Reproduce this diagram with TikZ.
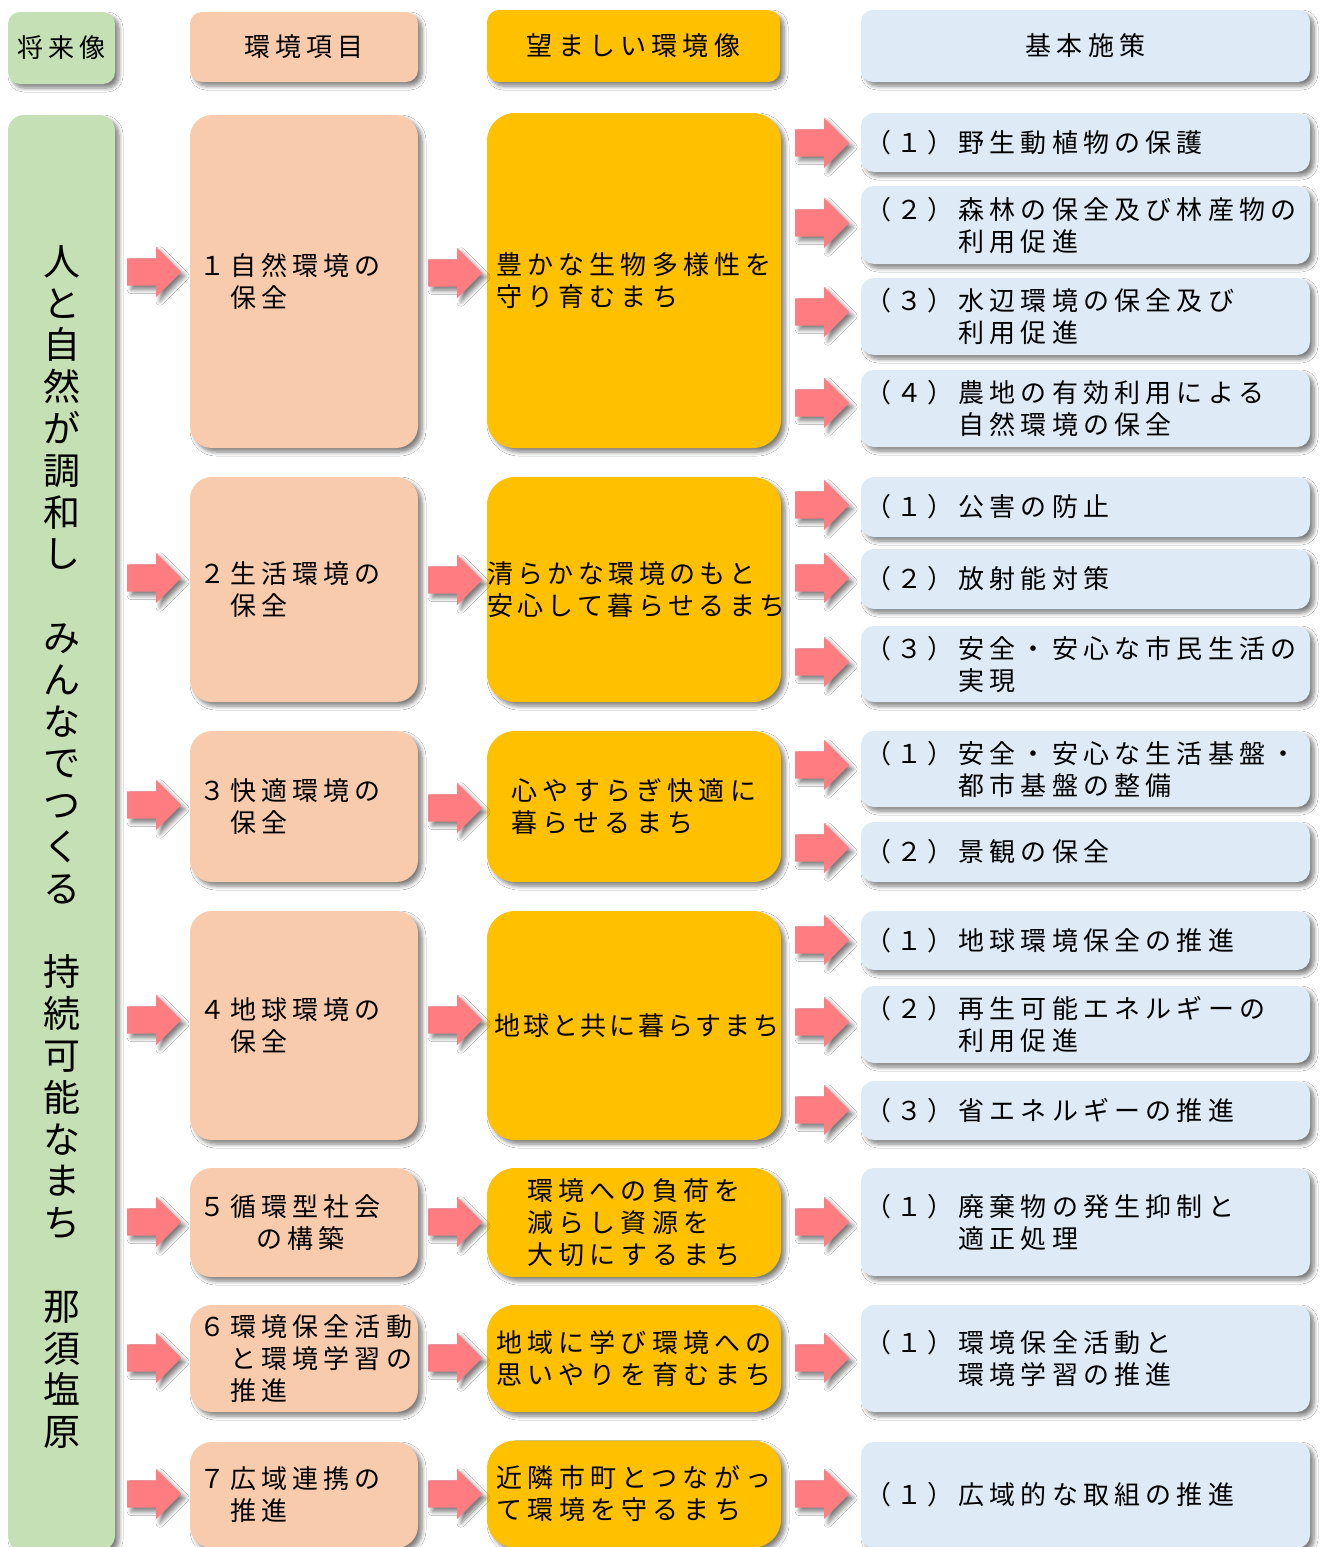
\documentclass[tikz,border=0pt]{standalone}
\usepackage{fontspec}
\setmainfont{Noto Sans CJK JP}[LetterSpace=20]
\newfontfamily\vfont{Noto Sans CJK JP}
\usetikzlibrary{shapes.arrows,shadows.blur}
\definecolor{cgreen}{HTML}{C5E0B4}
\definecolor{cpeach}{HTML}{F8CBAD}
\definecolor{cgold}{HTML}{FFC000}
\definecolor{cblue}{HTML}{DEEBF7}
\definecolor{cpink}{HTML}{FF7C80}
\newcommand{\ind}[1]{\hphantom{#1}\kern5pt\relax}
\begin{document}
\begin{tikzpicture}[x=1pt,y=-1pt,
  shade/.style={blur shadow={shadow xshift=4pt,shadow yshift=-4pt,shadow blur radius=4pt,shadow blur steps=6,shadow opacity=50}},
  txt/.style={font=\fontsize{26pt}{32pt}\selectfont},
  box/.style={rectangle,rounded corners=#1,draw=none,inner sep=0pt,shade,txt},
  hdr/.style={box=12pt,minimum height=72pt,align=center},
  peach/.style={box=22pt,fill=cpeach,text width=210pt,inner xsep=9pt,align=left},
  gold/.style={box=28pt,fill=cgold,minimum width=294pt,align=left},
  blue/.style={box=13pt,fill=cblue,text width=441pt,inner xsep=4pt,align=left},
  parrow/.style={single arrow,fill=cpink,draw=none,minimum height=54pt,anchor=tail,
    single arrow head extend=11.5pt,single arrow tip angle=90,inner xsep=0pt,inner ysep=13.5pt,shade}]
\useasboundingbox[fill=white] (0,0) rectangle (1320,1547);
% headers
\node[hdr,fill=cgreen,minimum width=107pt] (h0) at (61.5,48) {将来像};
\node[hdr,fill=cpeach,minimum width=228pt,minimum height=70pt] (h1) at (304,47) {環境項目};
\node[hdr,fill=cgold,minimum width=293pt] (h2) at (633.5,46) {望ましい環境像};
\node[hdr,fill=cblue,minimum width=449pt] (h3) at (1085.5,46) {基本施策};
% vision column
\node[box=16pt,fill=cgreen,minimum width=107pt,minimum height=1436pt] (vis) at (61.5,833) {};
\node[font=\vfont\fontsize{37pt}{41.8pt}\selectfont,align=center,inner sep=0pt] (vt) at (61.5,847)
 {人\\と\\自\\然\\が\\調\\和\\し\\\mbox{}\\み\\ん\\な\\で\\つ\\く\\る\\\mbox{}\\持\\続\\可\\能\\な\\ま\\ち\\\mbox{}\\那\\須\\塩\\原};
% environmental items
\node[peach,minimum height=333pt] (p1) at (304,281.5) {１自然環境の\\\ind{１}保全};
\node[peach,minimum height=225pt] (p2) at (304,589.5) {２生活環境の\\\ind{２}保全};
\node[peach,minimum height=151pt] (p3) at (304,806.5) {３快適環境の\\\ind{３}保全};
\node[peach,minimum height=229pt] (p4) at (304,1025.5) {４地球環境の\\\ind{４}保全};
\node[peach,minimum height=109pt] (p5) at (304,1222.5) {５循環型社会\\\hphantom{５循}の構築};
\node[peach,minimum height=107pt] (p6) at (304,1358.5) {６環境保全活動\\\ind{６}と環境学習の\\\ind{６}推進};
\node[peach,minimum height=106pt] (p7) at (304,1495) {７広域連携の\\\ind{７}推進};
% desired images
\node[gold,minimum height=335pt] (g1) at (634,280.5) {豊かな生物多様性を\\守り育むまち};
\node[gold,minimum height=225pt,text width=294pt,font={\fontsize{26pt}{32pt}\selectfont\addfontfeature{LetterSpace=17}}] (g2) at (634,589.5) {清らかな環境のもと\\安心して暮らせるまち};
\node[gold,minimum height=151pt] (g3) at (634,806.5) {心やすらぎ快適に\\暮らせるまち};
\node[gold,minimum height=229pt,font={\fontsize{26pt}{32pt}\selectfont\addfontfeature{LetterSpace=11}}] (g4) at (634,1025.5) {\hspace{6pt}地球と共に暮らすまち};
\node[gold,minimum height=109pt] (g5) at (634,1222.5) {環境への負荷を\\減らし資源を\\大切にするまち};
\node[gold,minimum height=107pt] (g6) at (634,1358.5) {地域に学び環境への\\思いやりを育むまち};
\node[gold,minimum height=107pt] (g7) at (634,1494) {近隣市町とつながっ\\て環境を守るまち};
% basic measures
\node[blue,minimum height=59pt] (b11) at (1085.5,142.5) {（１）野生動植物の保護};
\node[blue,minimum height=78pt] (b12) at (1085.5,225) {（２）森林の保全及び林産物の\\\ind{（２）}利用促進};
\node[blue,minimum height=77pt] (b13) at (1085.5,316.5) {（３）水辺環境の保全及び\\\ind{（３）}利用促進};
\node[blue,minimum height=77pt] (b14) at (1085.5,408.5) {（４）農地の有効利用による\\\ind{（４）}自然環境の保全};
\node[blue,minimum height=60pt] (b21) at (1085.5,507) {（１）公害の防止};
\node[blue,minimum height=60pt] (b22) at (1085.5,579) {（２）放射能対策};
\node[blue,minimum height=76pt] (b23) at (1085.5,664) {（３）安全・安心な市民生活の\\\ind{（３）}実現};
\node[blue,minimum height=76pt] (b31) at (1085.5,769) {（１）安全・安心な生活基盤・\\\ind{（１）}都市基盤の整備};
\node[blue,minimum height=60pt] (b32) at (1085.5,852) {（２）景観の保全};
\node[blue,minimum height=59pt] (b41) at (1085.5,940.5) {（１）地球環境保全の推進};
\node[blue,minimum height=77pt] (b42) at (1085.5,1024.5) {（２）再生可能エネルギーの\\\ind{（２）}利用促進};
\node[blue,minimum height=59pt] (b43) at (1085.5,1110.5) {（３）省エネルギーの推進};
\node[blue,minimum height=108pt] (b51) at (1085.5,1222) {（１）廃棄物の発生抑制と\\\ind{（１）}適正処理};
\node[blue,minimum height=107pt] (b61) at (1085.5,1358.5) {（１）環境保全活動と\\\ind{（１）}環境学習の推進};
\node[blue,minimum height=106pt] (b71) at (1085.5,1495) {（１）広域的な取組の推進};
% arrows: vision -> items
\node[parrow] (la1) at (127,272) {};
\node[parrow] (la2) at (127,578) {};
\node[parrow] (la3) at (127,805) {};
\node[parrow] (la4) at (127,1020) {};
\node[parrow] (la5) at (127,1222) {};
\node[parrow] (la6) at (127,1358) {};
\node[parrow] (la7) at (127,1494) {};
% arrows: items -> images
\node[parrow] (ma1) at (428,273) {};
\node[parrow] (ma2) at (428,580) {};
\node[parrow] (ma3) at (428,808) {};
\node[parrow] (ma4) at (428,1020) {};
\node[parrow] (ma5) at (428,1222) {};
\node[parrow] (ma6) at (428,1358) {};
\node[parrow] (ma7) at (428,1494) {};
% arrows: images -> measures
\node[parrow] (ra11) at (795,143) {};
\node[parrow] (ra12) at (795,223) {};
\node[parrow] (ra13) at (795,312) {};
\node[parrow] (ra14) at (795,403) {};
\node[parrow] (ra21) at (795,505) {};
\node[parrow] (ra22) at (795,578) {};
\node[parrow] (ra23) at (795,662) {};
\node[parrow] (ra31) at (795,765) {};
\node[parrow] (ra32) at (795,848) {};
\node[parrow] (ra41) at (795,940) {};
\node[parrow] (ra42) at (795,1022) {};
\node[parrow] (ra43) at (795,1110) {};
\node[parrow] (ra51) at (795,1222) {};
\node[parrow] (ra61) at (795,1358) {};
\node[parrow] (ra71) at (795,1494) {};
\end{tikzpicture}
\end{document}
